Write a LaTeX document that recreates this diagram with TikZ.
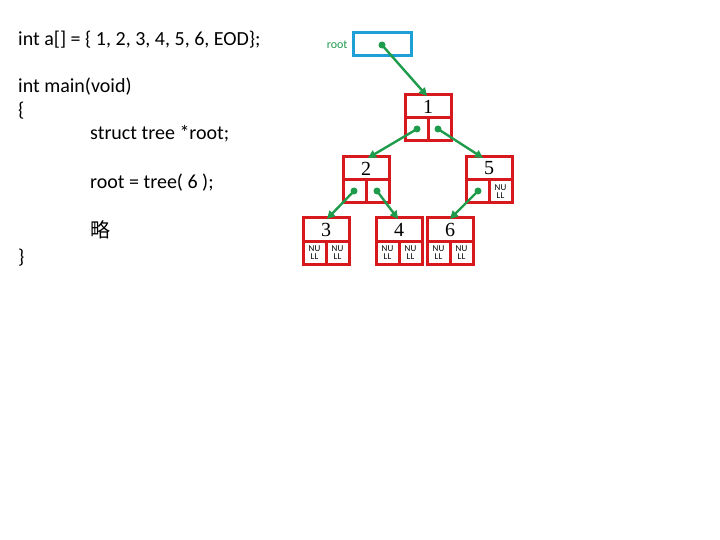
\documentclass[tikz,border=0pt]{standalone}
\usepackage{fontspec}
\setmainfont{Carlito}
\newfontfamily\cjk{Noto Sans CJK SC}
\newfontfamily\numfont{Liberation Serif}
\usetikzlibrary{arrows.meta}
\definecolor{nred}{RGB}{215,25,30}
\definecolor{nblue}{RGB}{30,160,215}
\definecolor{ngreen}{RGB}{30,155,75}
\tikzset{
  cell/.style={draw=nred,line width=3pt},
  ptr/.style={draw=ngreen,line width=2.4pt,-{Triangle[length=8pt,width=8pt]}},
  dot/.style={circle,fill=ngreen,inner sep=0pt,minimum size=7pt},
  code/.style={anchor=base west,inner sep=0pt,font=\fontsize{20}{22}\selectfont},
  num/.style={font=\numfont\fontsize{20}{22}\selectfont},
  nul/.style={font=\fontsize{9}{8}\selectfont,align=center,inner sep=0pt}
}
\begin{document}
\begin{tikzpicture}[x=1pt,y=-1pt]
\useasboundingbox (0,0) rectangle (720,540);
\node[code] (l1) at (18,46) {int a[] = \{ 1, 2, 3, 4, 5, 6, EOD\};};
\node[code] (l2) at (18,93) {int main(void)};
\node[code] (l3) at (18,117) {\{};
\node[code] (l4) at (90,140) {struct tree *root;};
\node[code] (l5) at (90,189) {root = tree( 6 );};
\node[code] (l6) at (90,237) {\cjk 略};
\node[code] (l7) at (18,263) {\}};
\node[font=\fontsize{12}{12}\selectfont,text=ngreen,anchor=east] (rl) at (351,45) {root};
\draw[draw=nblue,line width=3pt] (353,33) rectangle (411,56);
\node[dot] (r0) at (382,45) {};
\newcommand\tnode[4]{%
  \draw[cell] (#2,#3) rectangle ++(46,46);
  \draw[cell] (#2,#3+23) -- ++(46,0);
  \draw[cell] (#2+23,#3+23) -- ++(0,23);
  \node[num] (#1) at (#2+23,#3+11.5) {#4};
  \coordinate (#1L) at (#2+11.5,#3+34.5);
  \coordinate (#1R) at (#2+34.5,#3+34.5);
}
\tnode{n1}{405}{95}{1}
\tnode{n2}{343}{157}{2}
\tnode{n5}{466}{157}{5}
\tnode{n3}{303}{218}{3}
\tnode{n4}{376}{218}{4}
\tnode{n6}{427}{218}{6}
\node[nul] (z5) at (n5R) {NU\\LL};
\node[nul] (z3a) at (n3L) {NU\\LL};
\node[nul] (z3b) at (n3R) {NU\\LL};
\node[nul] (z4a) at (n4L) {NU\\LL};
\node[nul] (z4b) at (n4R) {NU\\LL};
\node[nul] (z6a) at (n6L) {NU\\LL};
\node[nul] (z6b) at (n6R) {NU\\LL};
\node[dot] (d1L) at (417,129) {};
\node[dot] (d1R) at (438,129) {};
\node[dot] (d2L) at (354,191) {};
\node[dot] (d2R) at (377,191) {};
\node[dot] (d5L) at (478,191) {};
\coordinate (t1) at (427,96);
\coordinate (t2) at (368,158);
\coordinate (t5) at (483,158);
\coordinate (t3) at (327,219);
\coordinate (t4) at (398,219);
\coordinate (t6) at (450,219);
\draw[ptr] (r0.center) -- (t1);
\draw[ptr] (d1L.center) -- (t2);
\draw[ptr] (d1R.center) -- (t5);
\draw[ptr] (d2L.center) -- (t3);
\draw[ptr] (d2R.center) -- (t4);
\draw[ptr] (d5L.center) -- (t6);
\end{tikzpicture}
\end{document}
